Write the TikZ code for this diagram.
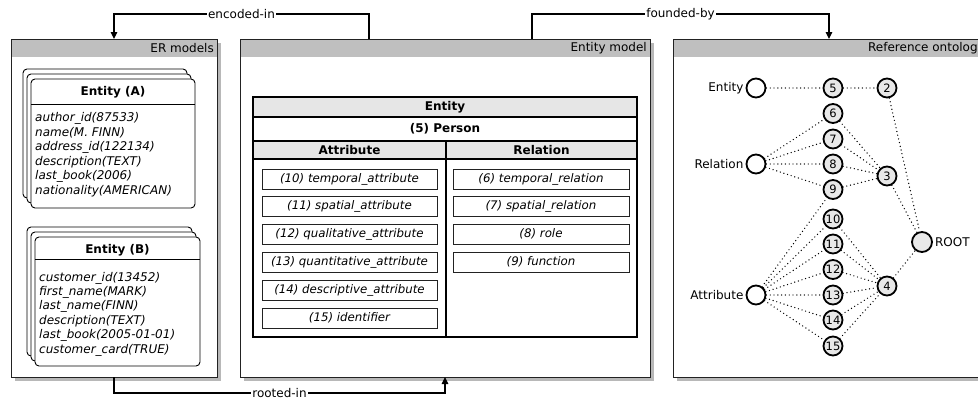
\documentclass[tikz,border=0pt]{standalone}
\usepackage{fontspec}
\setmainfont{DejaVu Sans}
\usetikzlibrary{shadows,calc,arrows.meta}
\definecolor{hdrgray}{HTML}{BFBFBF}
\definecolor{rowgray}{HTML}{E6E6E6}
\definecolor{nodegray}{HTML}{E8E8E8}
\definecolor{edgecol}{HTML}{222222}
\begin{document}
\begin{tikzpicture}[x=1pt,y=-1pt,
  font=\fontsize{12}{14}\selectfont,
  panel/.style={draw=edgecol, line width=1pt, fill=white, inner sep=0pt, outer sep=0pt, anchor=north west,
    drop shadow={shadow xshift=3.5pt, shadow yshift=-3.5pt, fill=black!28, opacity=1}},
  hdrtext/.style={anchor=east, inner sep=0pt},
  stackbox/.style={draw=black, line width=0.9pt, fill=white, rounded corners=4pt},
  frontbox/.style={stackbox, inner sep=0pt, outer sep=0pt, anchor=north west, minimum width=164pt, minimum height=129pt},
  etitle/.style={font=\fontsize{12}{14}\selectfont\bfseries, inner sep=0pt},
  attrtxt/.style={font=\fontsize{12}{14}\selectfont\itshape, anchor=base west, inner sep=0pt},
  tblline/.style={draw=black, line width=1.3pt},
  tbtxt/.style={font=\fontsize{12}{14}\selectfont\bfseries, inner sep=0pt},
  ibox/.style={draw=edgecol, line width=0.9pt, fill=white, minimum width=175pt, minimum height=20pt, inner sep=0pt,
    font=\fontsize{11.8}{14}\selectfont\itshape},
  circ/.style={circle, draw=black, line width=1.8pt, minimum size=19pt, inner sep=0pt, fill=nodegray,
    font=\fontsize{11.5}{13}\selectfont},
  wcirc/.style={circ, fill=white},
  dots/.style={draw=black, line width=1.4pt, line cap=round, dash pattern=on 0pt off 3.8pt},
  conn/.style={draw=black, line width=1.1pt, -{Triangle[length=7pt,width=6.5pt]}},
  lbl/.style={fill=white, inner sep=1.5pt}
]
\useasboundingbox (0,0) rectangle (978,410);
\clip (0,0) rectangle (978,410);

% ---------------- panels ----------------
\node[panel, minimum width=206pt, minimum height=338pt] (er) at (11,39) {};
\fill[hdrgray] (er.north west) rectangle ($(er.north east)+(0,18)$);
\draw[draw=edgecol, line width=1pt] (er.north west) rectangle (er.south east);
\node[hdrtext] (erT) at ($(er.north east)+(-3,9)$) {ER models};

\node[panel, minimum width=410pt, minimum height=338pt] (em) at (240,39) {};
\fill[hdrgray] (em.north west) rectangle ($(em.north east)+(0,18)$);
\draw[draw=edgecol, line width=1pt] (em.north west) rectangle (em.south east);
\node[hdrtext] (emT) at ($(em.north east)+(-3,9)$) {Entity model};

\node[panel, minimum width=315pt, minimum height=338pt] (ro) at (673,39) {};
\fill[hdrgray] (ro.north west) rectangle ($(ro.north east)+(0,18)$);
\draw[draw=edgecol, line width=1pt] (ro.north west) rectangle (ro.south east);
\node[hdrtext] (roT) at ($(ro.north east)+(-3,9)$) {Reference ontology};

% ---------------- ER entity stacks ----------------
\draw[stackbox] (23,69) rectangle (187,198);
\draw[stackbox] (27,74) rectangle (191,203);
\node[frontbox] (eA) at (31,79) {};
\draw[line width=0.9pt] ($(eA.north west)+(0,25)$) -- ($(eA.north east)+(0,25)$);
\node[etitle] (tA) at ($(eA.north)+(0,13.5)$) {Entity (A)};
\foreach \t [count=\i from 0] in {author\_id(87533), name(M. FINN), address\_id(122134), description(TEXT), last\_book(2006), nationality(AMERICAN)}
  \node[attrtxt] (aA\i) at (35,{121.5+14.6*\i}) {\t};

\draw[stackbox] (27,227) rectangle (192,356);
\draw[stackbox] (31,232) rectangle (196,361);
\node[frontbox, minimum width=165pt] (eB) at (35,237) {};
\draw[line width=0.9pt] ($(eB.north west)+(0,22)$) -- ($(eB.north east)+(0,22)$);
\node[etitle] (tB) at ($(eB.north)+(0,13.5)$) {Entity (B)};
\foreach \t [count=\i from 0] in {customer\_id(13452), first\_name(MARK), last\_name(FINN), description(TEXT), last\_book(2005-01-01), customer\_card(TRUE)}
  \node[attrtxt] (aB\i) at (39,{281+14.4*\i}) {\t};

% ---------------- entity model table ----------------
\node[draw=none, fill=white, inner sep=0pt, outer sep=0pt, anchor=north west, minimum width=384pt, minimum height=240pt] (tb) at (253,97) {};
\fill[rowgray] (tb.north west) rectangle ($(tb.north east)+(0,20)$);
\fill[rowgray] ($(tb.north west)+(0,44)$) rectangle ($(tb.north east)+(0,62)$);
\draw[tblline] ($(tb.north west)+(0,20)$) -- ($(tb.north east)+(0,20)$);
\draw[tblline] ($(tb.north west)+(0,44)$) -- ($(tb.north east)+(0,44)$);
\draw[tblline] ($(tb.north west)+(0,62)$) -- ($(tb.north east)+(0,62)$);
\draw[tblline] ($(tb.north west)+(193,44)$) -- ($(tb.south west)+(193,0)$);
\draw[tblline] (tb.north west) rectangle (tb.south east);
\node[tbtxt] (tEnt) at (445,107) {Entity};
\node[tbtxt] (tPer) at (445,129) {(5) Person};
\node[tbtxt] (tAtt) at (349.5,150.5) {Attribute};
\node[tbtxt] (tRel) at (541.5,150.5) {Relation};

\node[ibox] (b10) at (349.5,179) {(10) temporal\_attribute};
\node[ibox] (b11) at (349.5,206.5) {(11) spatial\_attribute};
\node[ibox] (b12) at (349.5,234) {(12) qualitative\_attribute};
\node[ibox] (b13) at (349.5,262) {(13) quantitative\_attribute};
\node[ibox] (b14) at (349.5,290) {(14) descriptive\_attribute};
\node[ibox] (b15) at (349.5,318) {(15) identifier};

\node[ibox, minimum width=176pt] (b6) at (541,179) {(6) temporal\_relation};
\node[ibox, minimum width=176pt] (b7) at (541,206.5) {(7) spatial\_relation};
\node[ibox, minimum width=176pt] (b8) at (541,234) {(8) role};
\node[ibox, minimum width=176pt] (b9) at (541,262) {(9) function};

% ---------------- reference ontology ----------------
\node[wcirc] (cEnt) at (756,88) {};
\node[wcirc] (cRel) at (756,164) {};
\node[wcirc] (cAtt) at (756,295) {};
\node[anchor=east, inner sep=2pt] (lEnt) at (cEnt.west) {Entity};
\node[anchor=east, inner sep=2pt] (lRel) at (cRel.west) {Relation};
\node[anchor=east, inner sep=2pt] (lAtt) at (cAtt.west) {Attribute};

\node[circ] (n5) at (833,88) {5};
\node[circ] (n6) at (833,113.5) {6};
\node[circ] (n7) at (833,139) {7};
\node[circ] (n8) at (833,164) {8};
\node[circ] (n9) at (833,189.5) {9};
\node[circ] (n10) at (833,219) {10};
\node[circ] (n11) at (833,244) {11};
\node[circ] (n12) at (833,269.5) {12};
\node[circ] (n13) at (833,295) {13};
\node[circ] (n14) at (833,320) {14};
\node[circ] (n15) at (833,346) {15};
\node[circ] (n2) at (887,88) {2};
\node[circ] (n3) at (887,176) {3};
\node[circ] (n4) at (887,286) {4};
\node[circ, minimum size=20pt] (root) at (922,242) {};
\node[anchor=west, inner sep=2pt] (lRoot) at (root.east) {ROOT};

\draw[dots] (cEnt) -- (n5);
\draw[dots] (n5) -- (n2);
\draw[dots] (n2) -- (root);
\foreach \k in {6,7,8,9} {
  \draw[dots] (cRel) -- (n\k);
  \draw[dots] (n\k) -- (n3);
}
\draw[dots] (n3) -- (root);
\foreach \k in {9,10,11,12,13,14,15}
  \draw[dots] (cAtt) -- (n\k);
\foreach \k in {10,11,12,13,14,15}
  \draw[dots] (n\k) -- (n4);
\draw[dots] (n4) -- (root);

% ---------------- connectors ----------------
\coordinate (encS) at (369,39);
\coordinate (fndS) at (532,39);
\coordinate (rtdS) at (114,377);
\draw[conn] (encS) -- ++(0,-25) -| node[pos=0.25, lbl] (lEnc) {encoded-in} (er.north -| 114,0);
\draw[conn] (fndS) -- ++(0,-25) -| node[pos=0.25, lbl] (lFnd) {founded-by} (ro.north -| 829,0);
\draw[conn] (rtdS) -- ++(0,16) -| node[pos=0.25, lbl] (lRtd) {rooted-in} (em.south -| 445,0);
\end{tikzpicture}
\end{document}
